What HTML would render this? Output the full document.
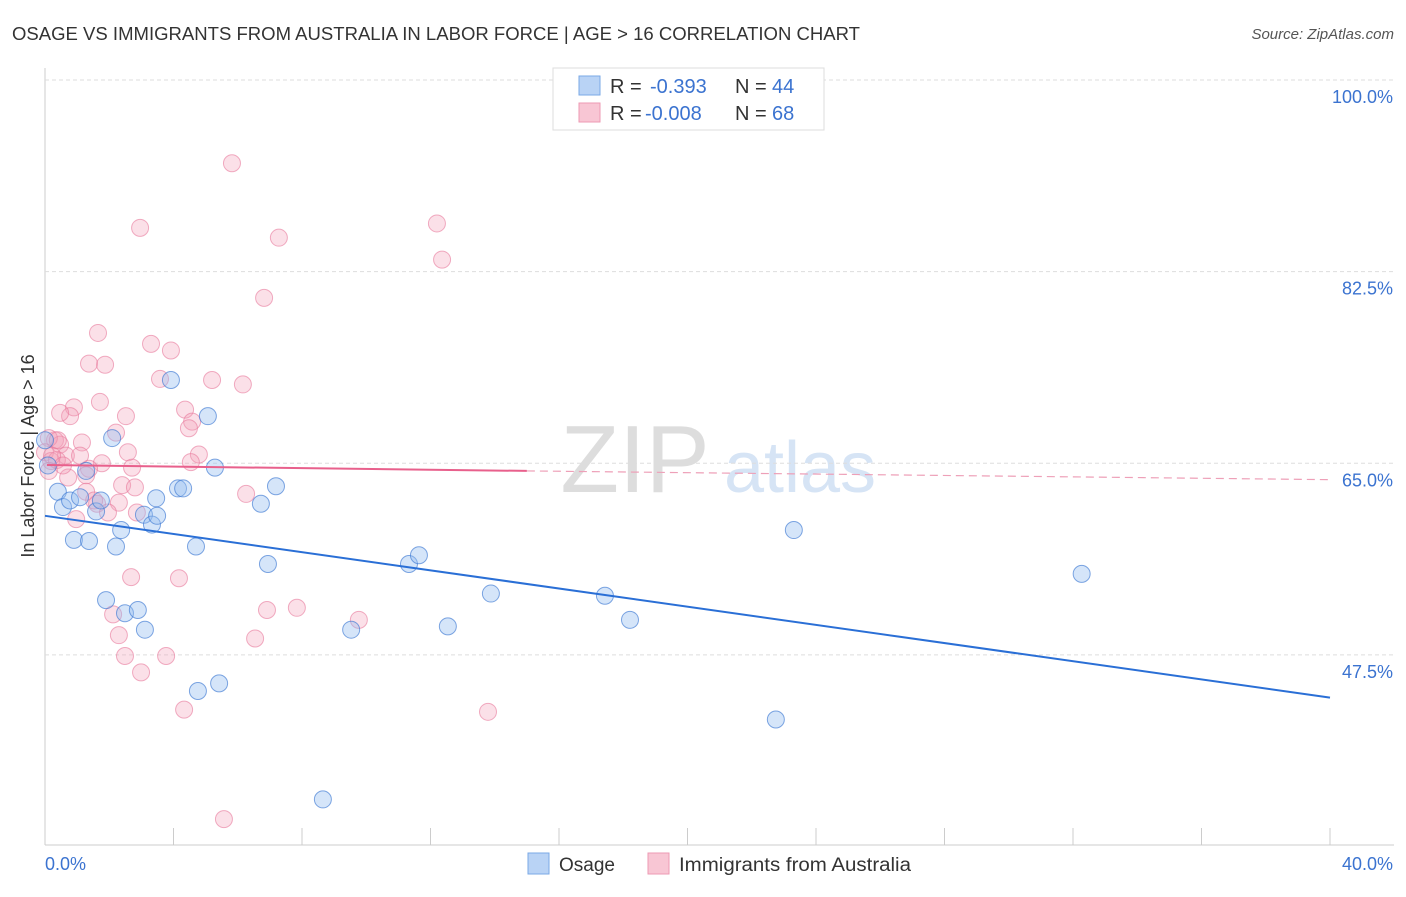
<!DOCTYPE html>
<html><head><meta charset="utf-8"><style>
body{margin:0;background:#fff;font-family:"Liberation Sans",sans-serif}
svg text{font-family:"Liberation Sans",sans-serif}
</style></head><body>
<svg id="c" width="1406" height="892">
<text x="12" y="40" font-size="18" fill="#333" textLength="848" lengthAdjust="spacingAndGlyphs">OSAGE VS IMMIGRANTS FROM AUSTRALIA IN LABOR FORCE | AGE &gt; 16 CORRELATION CHART</text>
<text x="1394" y="39" font-size="15" fill="#555" text-anchor="end" font-style="italic">Source: ZipAtlas.com</text>
<text x="635" y="492" font-size="96" fill="#ddd" text-anchor="middle" font-family="Liberation Serif">ZIP</text>
<text x="800" y="492" font-size="72" fill="#d6e4f5" text-anchor="middle">atlas</text>
<text transform="translate(34,456) rotate(-90)" font-size="18" fill="#333" text-anchor="middle">In Labor Force | Age &gt; 16</text>
<g id="grid"></g><g id="pts"></g><g id="lines"></g>
<g>
<rect x="553" y="68" width="271" height="62" fill="#fff" stroke="#ddd"/>
<rect x="579" y="76" width="21" height="19" fill="#b9d3f5" stroke="#7aa8e6"/>
<rect x="579" y="103" width="21" height="19" fill="#f8c6d4" stroke="#ee9ab3"/>
<text x="610" y="93" font-size="20" fill="#333">R =</text><text x="650" y="93" font-size="20" fill="#3b73d0">-0.393</text>
<text x="735" y="93" font-size="20" fill="#333">N =</text><text x="772" y="93" font-size="20" fill="#3b73d0">44</text>
<text x="610" y="120" font-size="20" fill="#333">R =</text><text x="645" y="120" font-size="20" fill="#3b73d0">-0.008</text>
<text x="735" y="120" font-size="20" fill="#333">N =</text><text x="772" y="120" font-size="20" fill="#3b73d0">68</text>
</g>
<g>
<rect x="528" y="853" width="21" height="21" fill="#b9d3f5" stroke="#7aa8e6"/>
<text x="559" y="871" font-size="19" fill="#333" textLength="56" lengthAdjust="spacingAndGlyphs">Osage</text>
<rect x="648" y="853" width="21" height="21" fill="#f8c6d4" stroke="#ee9ab3"/>
<text x="679" y="871" font-size="19" fill="#333" textLength="232" lengthAdjust="spacingAndGlyphs">Immigrants from Australia</text>
</g>
<text x="45" y="870" font-size="18" fill="#3b73d0">0.0%</text>
<text x="1393" y="870" font-size="18" fill="#3b73d0" text-anchor="end">40.0%</text>
</svg>
<script>
const yTicks=[100,82.5,65,47.5];
const yTickLabels=["100.0%","82.5%","65.0%","47.5%"];
const xTicks=[0,4,8,12,16,20,24,28,32,36,40];
const osageX=[0,0.09,0.4,0.56,0.78,0.9,1.09,1.37,1.28,1.59,1.74,1.9,2.09,2.21,2.37,2.49,2.89,3.11,3.08,3.33,3.49,3.46,3.92,4.14,4.3,4.7,4.76,5.07,5.29,5.42,6.72,6.94,7.19,8.65,9.53,11.33,11.64,12.54,13.88,17.43,18.21,22.75,23.31,32.27];
const osageY=[67.1,64.8,62.4,61.0,61.6,58.0,61.9,57.9,64.3,60.6,61.6,52.5,67.3,57.4,58.9,51.3,51.6,49.8,60.3,59.4,60.2,61.8,72.6,62.7,62.7,57.4,44.2,69.3,64.6,44.9,61.3,55.8,62.9,34.3,49.8,55.8,56.6,50.1,53.1,52.9,50.7,41.6,58.9,54.9];
const ausX=[5.82,2.96,12.2,7.28,12.36,6.82,1.65,3.3,3.92,1.37,1.87,3.58,5.2,6.16,1.71,0.9,0.78,2.52,4.36,4.58,4.48,2.21,1.15,0.31,0.47,0.12,0,0.65,2.58,4.79,4.54,1.77,2.71,1.37,1.28,0.72,0.19,0.37,2.4,2.8,6.26,1.28,1.62,2.3,1.96,2.86,0.97,2.68,4.17,6.91,7.84,9.77,2.12,2.3,6.54,2.49,3.77,2.99,4.33,13.79,5.57,0.22,0.56,0.12,1.53,0.4,1.09,0.47];
const ausY=[92.4,86.5,86.9,85.6,83.6,80.1,76.9,75.9,75.3,74.1,74.0,72.7,72.6,72.2,70.6,70.1,69.3,69.3,69.9,68.8,68.2,67.8,66.9,67.1,66.7,67.3,66.0,65.7,66.0,65.8,65.1,65.0,64.6,64.5,63.9,63.7,65.2,65.3,63.0,62.8,62.2,62.4,61.3,61.4,60.5,60.5,59.9,54.6,54.5,51.6,51.8,50.7,51.2,49.3,49.0,47.4,47.4,45.9,42.5,42.3,32.5,65.7,64.8,64.3,61.6,67.1,65.7,69.6];
const blueLine=[[0,60.2],[40,43.6]];
const pinkSolid=[[0.06,64.84],[15,64.3]];
const pinkDash=[[15,64.3],[40,63.5]];
const NS='http://www.w3.org/2000/svg';
const X=v=>45+v*32.125, Y=v=>80+(100-v)*10.95;
function mk(t,a,p){const e=document.createElementNS(NS,t);for(const k in a)e.setAttribute(k,a[k]);p.appendChild(e);return e;}
const g=document.getElementById('grid');
mk('line',{x1:45,y1:68,x2:45,y2:845,stroke:'#ccc'},g);
mk('line',{x1:45,y1:845,x2:1394,y2:845,stroke:'#ccc'},g);
yTicks.forEach((t,i)=>{const l=mk('line',{x1:45,y1:Y(t),x2:1394,y2:Y(t),stroke:'#ddd','stroke-dasharray':'4,3'},g);


const tx=mk('text',{x:1393,y:Y(t)+23,'font-size':18,fill:'#3b73d0','text-anchor':'end'},g);tx.textContent=yTickLabels[i];

});
xTicks.forEach(t=>{const l=mk('line',{x1:X(t),y1:828,x2:X(t),y2:845,stroke:'#ccc'},g);

});
const p=document.getElementById('pts');
ausX.forEach((x,i)=>{const c=mk('circle',{cx:X(x),cy:Y(ausY[i]),r:8.5,fill:'rgba(244,160,185,0.32)',stroke:'rgba(232,120,155,0.6)','stroke-width':1},p);

});
osageX.forEach((x,i)=>{const c=mk('circle',{cx:X(x),cy:Y(osageY[i]),r:8.5,fill:'rgba(150,190,240,0.4)',stroke:'rgba(60,120,210,0.65)','stroke-width':1},p);

});
const L=document.getElementById('lines');
let a=mk('line',{x1:X(blueLine[0][0]),y1:Y(blueLine[0][1]),x2:X(blueLine[1][0]),y2:Y(blueLine[1][1]),stroke:'#2a6fd6','stroke-width':2},L);


a=mk('line',{x1:X(pinkSolid[0][0]),y1:Y(pinkSolid[0][1]),x2:X(pinkSolid[1][0]),y2:Y(pinkSolid[1][1]),stroke:'#e8608c','stroke-width':2},L);


a=mk('line',{x1:X(pinkDash[0][0]),y1:Y(pinkDash[0][1]),x2:X(pinkDash[1][0]),y2:Y(pinkDash[1][1]),stroke:'#eea0b8','stroke-width':1.2,'stroke-dasharray':'8,5'},L);


</script>
</body></html>
